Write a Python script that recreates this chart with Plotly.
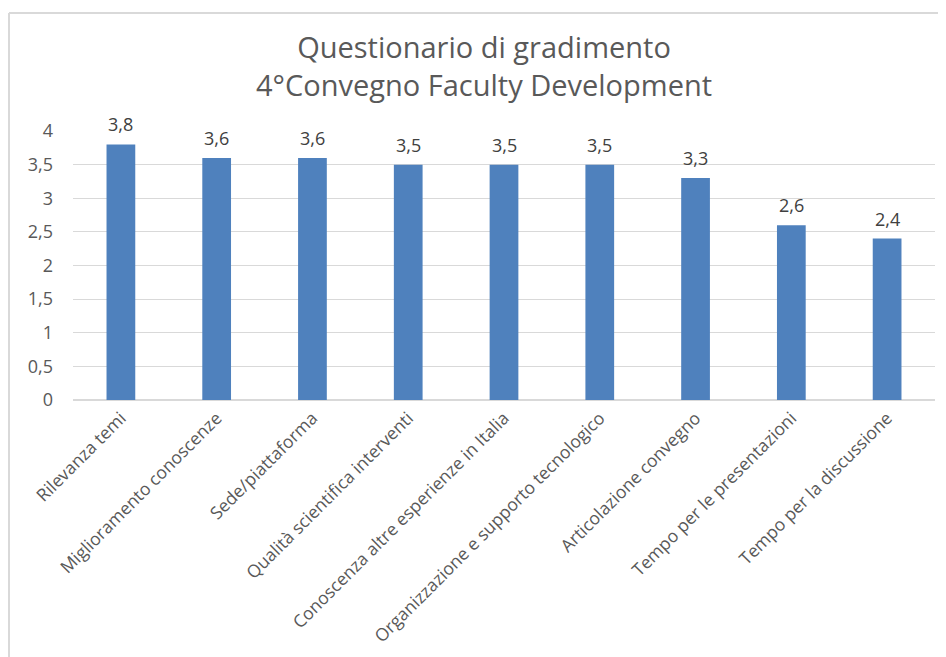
import plotly.graph_objects as go

categories = [
    'Rilevanza temi',
    'Miglioramento conoscenze',
    'Sede/piattaforma',
    'Qualità scientifica interventi',
    'Conoscenza altre esperienze in Italia',
    'Organizzazione e supporto tecnologico',
    'Articolazione convegno',
    'Tempo per le presentazioni',
    'Tempo per la discussione',
]
scores = [3.8, 3.6, 3.6, 3.5, 3.5, 3.5, 3.3, 2.6, 2.4]
y_ticks = [0, 0.5, 1, 1.5, 2, 2.5, 3, 3.5, 4]

# the page body adds an 8px margin, so the figure is sized to fit inside it
W, H = 938, 649
L, R, T, B = 65, 11, 123, 257
pw, ph = W - L - R, H - T - B


def px_x(x):
    return (x - L) / pw


def px_y(y):
    return (H - B - y) / ph


font = 'Open Sans, Liberation Sans, sans-serif'

fig = go.Figure(
    go.Bar(
        x=categories,
        y=scores,
        marker=dict(color='#4f81bd', line=dict(width=0)),
        cliponaxis=False,
    )
)

# value labels, sitting a little higher above the bars than plotly's default
for cat, val in zip(categories, scores):
    fig.add_annotation(
        x=cat, y=val, text=f'{val:.1f}'.replace('.', ','),
        showarrow=False, yanchor='bottom', yshift=6,
        font=dict(size=18, color='#404040', family=font),
    )

# chart frame (left and top edges visible in the original)
border = '#d9d9d9'
fig.add_shape(type='line', xref='paper', yref='paper',
              x0=px_x(1), x1=px_x(1), y0=px_y(H + 5), y1=px_y(5),
              line=dict(color=border, width=2))
fig.add_shape(type='line', xref='paper', yref='paper',
              x0=px_x(1), x1=px_x(W + 5), y0=px_y(5), y1=px_y(5),
              line=dict(color=border, width=2))

fig.update_layout(
    width=W, height=H,
    margin=dict(l=L, r=R, t=T, b=B),
    paper_bgcolor='white',
    plot_bgcolor='white',
    separators=', ',
    bargap=0.7,
    showlegend=False,
    font=dict(family=font, color='#595959'),
    title=dict(
        text='Questionario di gradimento<br>4°Convegno Faculty Development',
        x=476 / W, xanchor='center',
        y=1 - 50 / H, yanchor='middle',
        font=dict(size=29, color='#595959', family=font),
    ),
    xaxis=dict(
        tickangle=-45,
        tickfont=dict(size=17.5, color='#595959'),
        showgrid=False,
        showline=True, linecolor='#d9d9d9', linewidth=1,
        ticks='',
    ),
    yaxis=dict(
        range=[0, 4],
        tickvals=y_ticks,
        tickformat='.1~f',
        tickfont=dict(size=18, color='#595959'),
        showgrid=True, gridcolor='#d9d9d9', gridwidth=1,
        zeroline=True, zerolinecolor='#d9d9d9',
        ticks='',
        ticklabelstandoff=19,
    ),
)

fig.write_html('out.html')
